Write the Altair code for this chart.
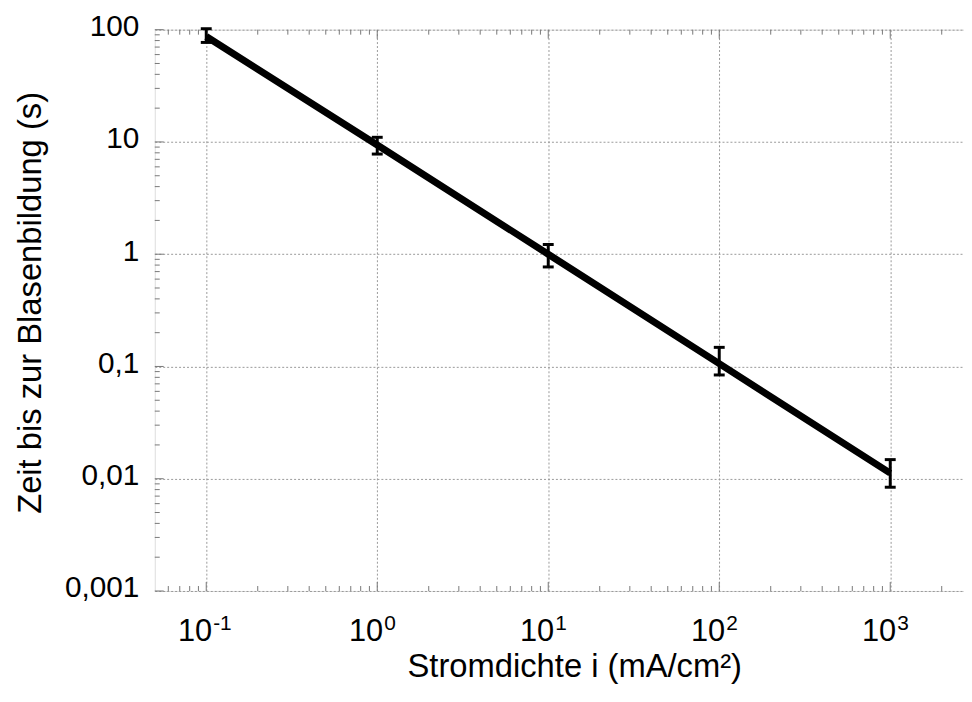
import altair as alt
import pandas as pd

# ---- data ----
current = [0.1, 1, 10, 100, 1000]          # Stromdichte i (mA/cm^2)
time_s = [87, 9.4, 1.0, 0.106, 0.0112]     # Zeit bis zur Blasenbildung (s)
time_lo = [77, 7.8, 0.77, 0.084, 0.0084]
time_hi = [102, 11.0, 1.22, 0.148, 0.0148]

x_ticks = [0.1, 1, 10, 100, 1000]
x_tick_base = ["10", "10", "10", "10", "10"]
x_tick_exp = ["-1", "0", "1", "2", "3"]
y_ticks = [0.001, 0.01, 0.1, 1, 10, 100]
y_tick_labels = ["0,001", "0,01", "0,1", "1", "10", "100"]

X_DOMAIN = [0.05, 2700]
Y_DOMAIN = [0.001, 100]
x_minor = [k * 10.0 ** e for e in range(-2, 4) for k in range(2, 10)
           if X_DOMAIN[0] < k * 10.0 ** e < X_DOMAIN[1]]
y_minor = [k * 10.0 ** e for e in range(-3, 2) for k in range(2, 10)]

W, H = 816, 566
FONT = "Liberation Sans, Arial, Helvetica, sans-serif"
FS = 30
TFS = 33

xs = alt.Scale(type="log", domain=X_DOMAIN, nice=False)
ys = alt.Scale(type="log", domain=Y_DOMAIN, nice=False)

df = pd.DataFrame({"x": current, "y": time_s, "lo": time_lo, "hi": time_hi})
xt = pd.DataFrame({"v": x_ticks, "base": x_tick_base, "exp": x_tick_exp})
xm = pd.DataFrame({"v": x_minor})
ym = pd.DataFrame({"v": y_minor})
yt = pd.DataFrame({"v": y_ticks})

label_expr = ""
for v, lab in zip(y_ticks, y_tick_labels):
    label_expr += f"abs(datum.value - {v}) < {v * 1e-6} ? '{lab}' : "
label_expr += "''"

line = alt.Chart(df).mark_line(color="black", strokeWidth=7).encode(
    x=alt.X("x:Q", scale=xs, axis=alt.Axis(
        values=x_ticks, labels=False, ticks=False, domain=False, grid=True,
        gridDash=[2, 2], gridColor="#999999", gridWidth=1,
        title="Stromdichte i (mA/cm²)", titleFont=FONT, titleFontSize=TFS,
        titleFontWeight="normal", titleColor="black", titlePadding=60,
        titleX=423)),
    y=alt.Y("y:Q", scale=ys, axis=alt.Axis(
        values=y_ticks, labelExpr=label_expr, labelFont=FONT, labelFontSize=FS,
        labelColor="black", labelPadding=16, labelOffset=-3, ticks=False,
        domain=False, grid=True, gridDash=[2, 2], gridColor="#999999",
        gridWidth=1, title="Zeit bis zur Blasenbildung (s)", titleFont=FONT,
        titleFontSize=TFS, titleFontWeight="normal", titleColor="black",
        titlePadding=17, titleY=275)),
)

err = alt.Chart(df).mark_rule(color="black", strokeWidth=3).encode(
    x=alt.X("x:Q", scale=xs, axis=None),
    y=alt.Y("lo:Q", scale=ys, axis=None),
    y2="hi:Q",
)
cap_lo = alt.Chart(df).mark_tick(color="black", orient="horizontal", size=11,
                                 thickness=3, opacity=1).encode(
    x=alt.X("x:Q", scale=xs, axis=None),
    y=alt.Y("lo:Q", scale=ys, axis=None),
)
cap_hi = alt.Chart(df).mark_tick(color="black", orient="horizontal", size=11,
                                 thickness=3, opacity=1).encode(
    x=alt.X("x:Q", scale=xs, axis=None),
    y=alt.Y("hi:Q", scale=ys, axis=None),
)

TICK_C = "#777777"
def xtick(data, y0, y1):
    return alt.Chart(data).mark_rule(color=TICK_C, strokeWidth=1).encode(
        x=alt.X("v:Q", scale=xs, axis=None), y=alt.value(y0), y2=alt.value(y1))

def ytick(data, x0, x1):
    return alt.Chart(data).mark_rule(color=TICK_C, strokeWidth=1).encode(
        y=alt.Y("v:Q", scale=ys, axis=None), x=alt.value(x0), x2=alt.value(x1))

ticks = [
    xtick(xm, H, H - 5), xtick(xm, 0, 5),
    xtick(xt, H, H - 9), xtick(xt, 0, 9),
    ytick(ym, 0, 5), ytick(yt, 0, 9),
]

base_lbl = alt.Chart(xt).mark_text(font=FONT, fontSize=31, align="right",
                                   baseline="alphabetic", dx=6, color="black").encode(
    x=alt.X("v:Q", scale=xs, axis=None), y=alt.value(H + 50), text="base:N")
exp_lbl = alt.Chart(xt).mark_text(font=FONT, fontSize=21, align="left",
                                  baseline="alphabetic", dx=7, color="black").encode(
    x=alt.X("v:Q", scale=xs, axis=None), y=alt.value(H + 39), text="exp:N")

chart = alt.layer(line, *ticks, err, cap_lo, cap_hi, base_lbl, exp_lbl).resolve_axis(
    x="independent", y="independent"
).properties(
    width=W, height=H,
    padding={"left": 148, "top": 19, "right": 0, "bottom": 100},
    autosize=alt.AutoSizeParams(type="none"),
).configure_view(stroke="#888888", strokeWidth=1.2).configure(background="white")

chart.save("out.html", embed_options={"renderer": "svg", "actions": False})
